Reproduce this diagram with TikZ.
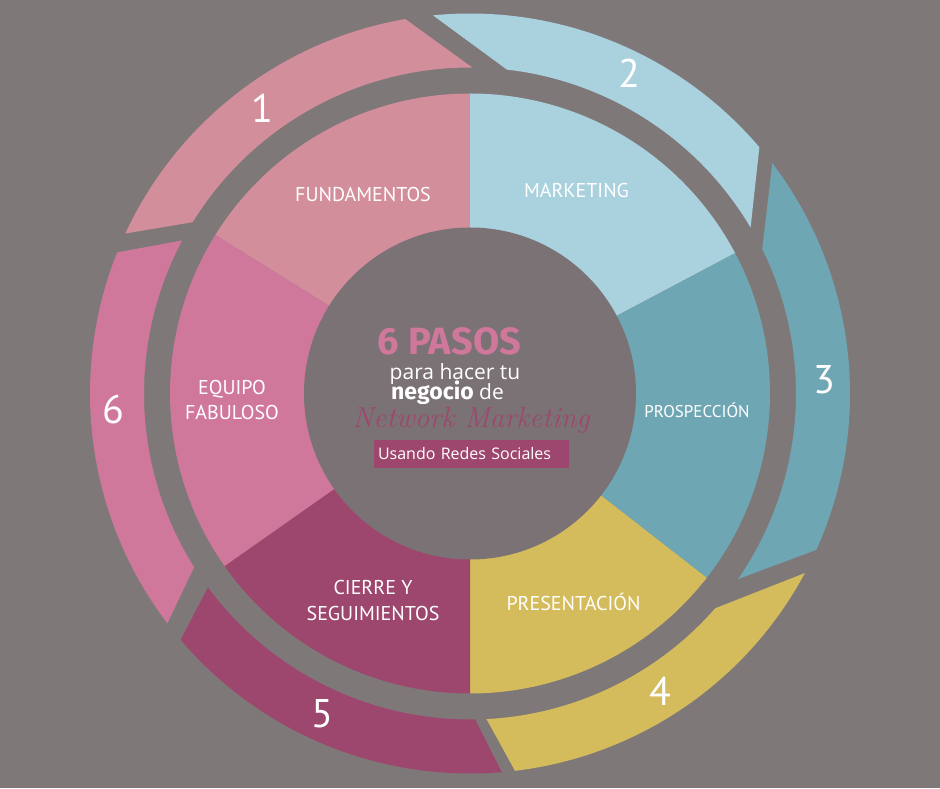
\documentclass[tikz,border=0pt]{standalone}
\usepackage{fontspec}
\newfontfamily\labelfont{PT Sans}
\newfontfamily\bodyfont{Open Sans}
\newfontfamily\headfont{Fira Sans}
\usetikzlibrary{calc}
\definecolor{bggray}    {RGB}{127,120,121}
\definecolor{discgray}  {RGB}{122,114,116}
\definecolor{fundpink}  {RGB}{211,142,155}
\definecolor{mktblue}   {RGB}{170,209,222}
\definecolor{prospteal} {RGB}{111,166,179}
\definecolor{presyellow}{RGB}{212,187, 91}
\definecolor{cierreplum}{RGB}{158, 71,110}
\definecolor{equipopink}{RGB}{207,120,155}
\tikzset{
  pie label/.style  = {white, align=center, anchor=base, inner sep=0pt,
                       font=\labelfont\fontsize{20}{25.5}\selectfont},
  band num/.style   = {white, inner sep=0pt, font=\labelfont\fontsize{40}{40}\selectfont},
  title big/.style  = {equipopink, anchor=base, inner sep=0pt,
                       font=\headfont\bfseries\fontsize{38}{38}\selectfont},
  title line/.style = {white, anchor=base, inner sep=0pt,
                       font=\bodyfont\fontsize{21}{21}\selectfont},
  script line/.style= {cierreplum, anchor=base, inner sep=0pt,
                       font=\rmfamily\itshape\fontsize{29}{29}\selectfont},
  sub box/.style    = {fill=cierreplum, text=white, minimum height=28pt, text width=187pt,
                       inner xsep=4pt, align=left, font=\bodyfont\fontsize{16}{16}\selectfont},
}

\begin{document}
\begin{tikzpicture}[x=1pt, y=1pt]

  % background
  \fill[bggray] (0,0) rectangle (940,788);
  \useasboundingbox (0,0) rectangle (940,788);

  \begin{scope}[shift={(470,394.5)}]
    % ── inner pie, six sectors ───────────────────────────────────────────────
    \foreach \a/\b/\col in {148.1/90/fundpink, 90/27.9/mktblue,
        27.9/-37.9/prospteal, -37.9/-90/presyellow,
        -90/-144.9/cierreplum, 215.1/148.1/equipopink}{
      \fill[\col] (0,0) -- (\a:300) arc[start angle=\a, end angle=\b, radius=300] -- cycle;
    }

    % ── outer bands with slanted ends (outer start/inner start/outer end/inner end)
    \foreach \so/\si/\eo/\ei/\col in
        {155.1/148.3/99.8/89.6/fundpink,
         95.6/83.5/40.4/30.6/mktblue,
         37.3/26.3/-24.3/-34.7/prospteal,
         -28.2/-41.2/-83.2/-87.1/presyellow,
         -85.2/-89.1/-139.6/-143.5/cierreplum,
         217.2/212.2/158.2/152/equipopink}{
      \fill[\col] (\so:380) arc[start angle=\so, end angle=\eo, radius=380]
        -- (\ei:326) arc[start angle=\ei, end angle=\si, radius=326] -- cycle;
    }

    % centre disc
    \fill[discgray] (0,0) circle[radius=166];
  \end{scope}

  % ── step numbers ──────────────────────────────────────────────────────────
  \foreach \n/\x/\y in {1/262/679.5, 2/629.7/715, 3/824/408,
                        4/660/97, 5/322.5/74, 6/113/378}{
    \node[band num] (num\n) at (\x,\y) {\n};
  }

  % ── sector labels (multi-line: base = last line) ──────────────────────────
  \node[pie label] (fund)   at (363,586)   {FUNDAMENTOS};
  \node[pie label] (mkt)    at (576.5,590) {MARKETING};
  \node[pie label, font=\labelfont\fontsize{17}{17}\selectfont]
                   (prosp)  at (697,370)   {PROSPECCIÓN};
  \node[pie label] (pres)   at (573.5,178) {PRESENTACIÓN};
  \node[pie label] (cierre) at (373,168)   {CIERRE Y\\SEGUIMIENTOS};
  \node[pie label] (equipo) at (232,368)   {EQUIPO\\FABULOSO};

  % ── title in the disc ─────────────────────────────────────────────────────
  \node[title big]   (pasos)   at (449.5,433) {6 PASOS};
  \node[title line]  (hacer)   at (455,408)   {para hacer tu};
  \node[title line]  (negocio) at (447.5,388)
    {{\headfont\bfseries\fontsize{23}{23}\selectfont negocio} de};
  \node[script line] (network) at (471,360)   {Network Marketing};
  \node[sub box]     (redes)   at (471.5,334) {Usando Redes Sociales};

\end{tikzpicture}
\end{document}
